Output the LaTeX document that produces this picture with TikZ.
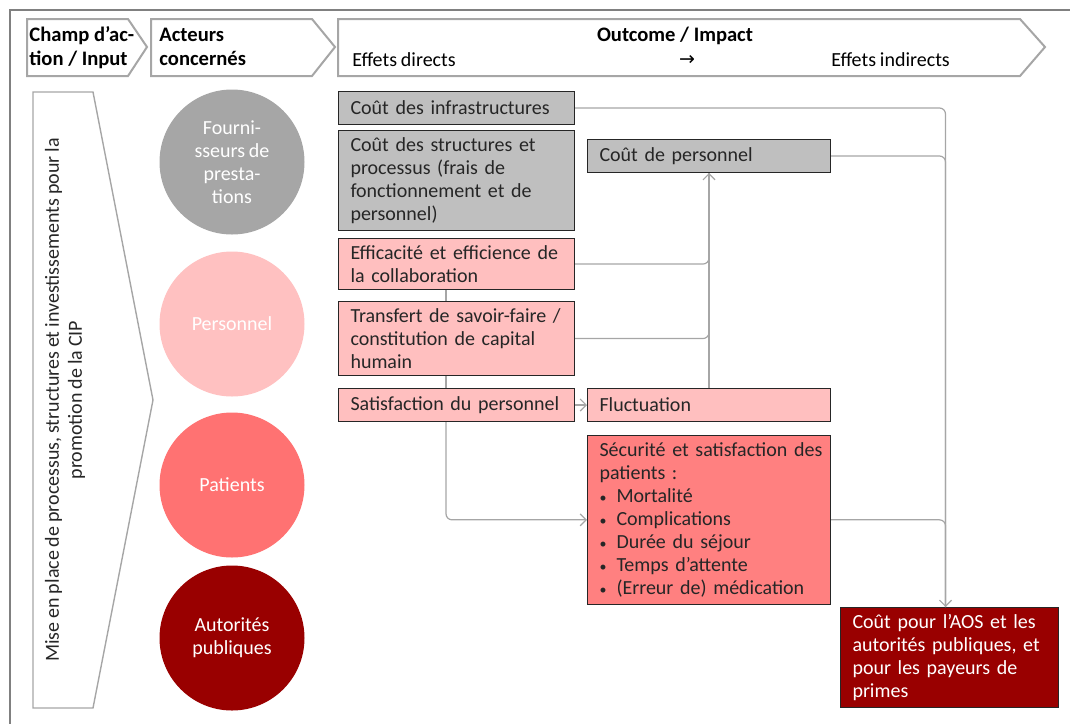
\documentclass[tikz,border=0pt]{standalone}
\usepackage{fontspec}
\setmainfont{Carlito}
\newfontfamily\symfont{DejaVu Sans}
\usetikzlibrary{arrows.meta}

\definecolor{boxgray}{HTML}{BFBFBF}
\definecolor{boxpink}{HTML}{FFBFBF}
\definecolor{boxred}{HTML}{FF8080}
\definecolor{darkred}{HTML}{990000}
\definecolor{actgray}{HTML}{A6A6A6}
\definecolor{actpink}{HTML}{FFC1C1}
\definecolor{actred}{HTML}{FF7272}
\definecolor{linegray}{HTML}{A6A6A6}
\definecolor{inkgray}{HTML}{262626}

\newcommand{\itembul}{\makebox[8.5pt][l]{\fontsize{7}{8}\selectfont\textbullet}}
\newcommand{\bodyfont}{\fontsize{10}{11.5}\selectfont\spaceskip=1.95pt plus 0.8pt minus 0.4pt\relax}

\begin{document}
\begin{tikzpicture}[x=0.5pt, y=-0.5pt, >={Straight Barb[length=3pt,width=6pt]},
  basefont/.style={font=\bodyfont},
  chevron/.style={draw=linegray, line width=1pt, line join=miter},
  head/.style={font=\fontsize{10.3}{12}\selectfont\bfseries, align=left, inner sep=1pt, text=black},
  effect/.style={basefont, draw=inkgray, line width=0.5pt, anchor=north west, align=left,
    inner xsep=6pt, inner ysep=3.5pt, text=inkgray},
  colone/.style={effect, text width=106pt},
  coltwo/.style={effect, text width=109.5pt},
  actor/.style={circle, basefont, minimum size=72.5pt, inner sep=0pt, align=center, text=white},
  link/.style={draw=linegray, line width=0.6pt, rounded corners=3pt}]
  \useasboundingbox (0,0) rectangle (1070,724);
  % Frame
  \draw[gray, line width=0.6pt] (1070,10) -- (10,10) -- (10,724);

  % Header chevrons
  \draw[chevron] (27,19) -- (128,19) -- (147,47) -- (128,76) -- (27,76) -- cycle;
  \draw[chevron] (151,19) -- (312,19) -- (335,47) -- (312,76) -- (151,76) -- cycle;
  \draw[chevron] (338,19) -- (1020,19) -- (1045,47) -- (1020,76) -- (338,76) -- cycle;
  \node[head, anchor=west] (field) at (27,48) {Champ d’ac-\\tion / Input};
  \node[head, anchor=west] (actors) at (157,47) {Acteurs\\concernés};
  \node[head] (impact) at (675,36) {Outcome / Impact};
  \node[basefont, anchor=west, inner sep=1pt] (direct) at (350,60) {Effets directs};
  \node[font=\symfont\fontsize{9.5}{10}\selectfont, inner sep=0.5pt] (towards) at (687,60) {→};
  \node[basefont, anchor=west, inner sep=1pt] (indirect) at (829,60) {Effets indirects};

  % Field of action
  \draw[draw=linegray, line width=0.7pt] (33,92) -- (93,92) -- (153,400) -- (93,708) -- (33,708) -- cycle;
  \node[basefont, rotate=90, align=center, text=inkgray] (input) at (65,400)
    {Mise en place de processus, structures et investissements pour la\\promotion de la CIP};

  % Actors
  \node[actor, fill=actgray] (provider) at (232,162) {Fourni-\\sseurs de\\presta-\\tions};
  \node[actor, fill=actpink] (staff) at (232,324) {Personnel};
  \node[actor, fill=actred] (patients) at (232,485) {Patients};
  \node[actor, fill=darkred] (authority) at (232,638) {Autorités\\publiques};

  % Direct effects
  \node[colone, fill=boxgray, minimum height=16.5pt] (infra) at (338,91) {Coût des infrastructures};
  \node[colone, fill=boxgray] (struct) at (338,130)
    {Coût des structures et\\processus (frais de\\fonctionnement et de\\personnel)};
  \node[colone, fill=boxpink] (collab) at (338,238) {Efficacité et efficience de\\la collaboration};
  \node[colone, fill=boxpink] (transfer) at (338,301)
    {Transfert de savoir-faire /\\constitution de capital\\humain};
  \node[colone, fill=boxpink, minimum height=16.5pt] (satis) at (338,388) {Satisfaction du personnel};

  % Indirect effects
  \node[coltwo, fill=boxgray, minimum height=16.5pt] (perscost) at (587,139) {Coût de personnel};
  \node[coltwo, fill=boxpink, minimum height=16.5pt] (fluct) at (587,388) {Fluctuation};
  \node[coltwo, fill=boxred] (safety) at (587,435)
    {\mbox{Sécurité et satisfaction des}\\patients :\\\itembul Mortalité\\\itembul Complications\\
     \itembul Durée du séjour\\\itembul Temps d’attente\\\itembul (Erreur de) médication};
  \node[effect, fill=darkred, text width=97pt, text=white] (aos) at (840,607)
    {Coût pour l’AOS et les\\autorités publiques, et\\pour les payeurs de\\primes};

  % Connectors
  \coordinate (spine) at (446,0);
  \coordinate (drop) at ([xshift=-2pt]aos.north);
  \draw[link] (collab.south -| spine) -- (transfer.north -| spine);
  \draw[link] (transfer.south -| spine) -- (satis.north -| spine);
  \draw[link, ->] (satis.south -| spine) |- (safety.west);
  \draw[link, ->] (satis) -- (fluct);
  \draw[link] (collab.east) -| (perscost.south);
  \draw[link] (transfer.east) -| (perscost.south);
  \draw[link, ->] (fluct) -- (perscost);
  \draw[link, ->] (infra.east) -| (drop);
  \draw[link] (perscost.east) -| (drop);
  \draw[link] (safety.east) -| (drop);
\end{tikzpicture}
\end{document}
